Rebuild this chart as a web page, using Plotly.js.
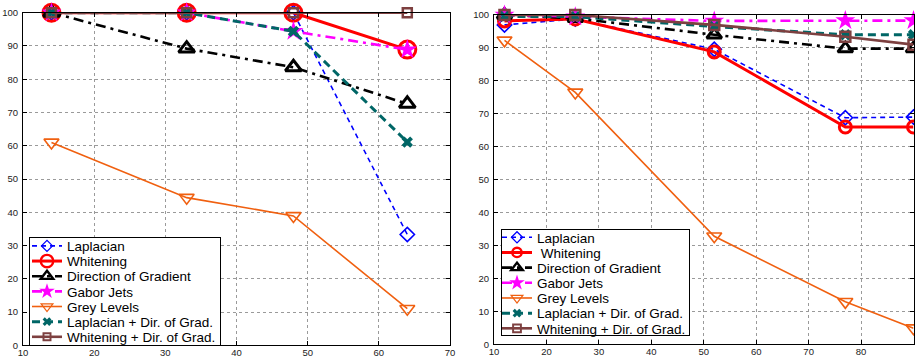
<!DOCTYPE html>
<html>
<head>
<meta charset="utf-8">
<script src="https://cdn.plot.ly/plotly-3.0.1.min.js"></script>
<style>html,body{margin:0;padding:0;background:#fff;}#chart{width:915px;height:358px;}</style>
</head>
<body>
<div id="chart"></div>
<script>
// ---- data ----
var seriesNames = ["Laplacian", "Whitening", "Direction of Gradient", "Gabor Jets", "Grey Levels", "Laplacian + Dir. of Grad.", "Whitening + Dir. of Grad."];
var seriesNamesRight = ["Laplacian", " Whitening", "Direction of Gradient", "Gabor Jets", "Grey Levels", "Laplacian + Dir. of Grad.", "Whitening + Dir. of Grad."];

var leftX = [14, 33, 48, 64];
var leftLaplacian   = [100, 100, 100, 33.3];
var leftWhitening   = [100, 100, 100, 88.9];
var leftDirGrad     = [100, 89.2, 83.6, 72.6];
var leftGabor       = [100, 100, 94.4, 88.9];
var leftGrey        = [61, 44.4, 38.9, 11];
var leftLapDir      = [100, 100, 94.4, 61.1];
var leftWhiteDir    = [100, 100, 100, 100];

var rightX = [12, 25.5, 52, 77, 90];
var rightLaplacian  = [97, 98.8, 89.6, 68.8, 69];
var rightWhitening  = [98.2, 98.8, 88.8, 66, 66];
var rightDirGrad    = [100, 99, 94, 89.8, 89.8];
var rightGabor      = [100, 99.5, 98.2, 98.3, 98.3];
var rightGrey       = [92.3, 76.5, 32.8, 12.9, 4.9];
var rightLapDir     = [99.6, 99.5, 96.5, 94, 94];
var rightWhiteDir   = [100, 100, 97, 93.4, 91];

var xTicksLeft = [10, 20, 30, 40, 50, 60, 70];
var xTicksRight = [10, 20, 30, 40, 50, 60, 70, 80, 90];
var yTicks = [0, 10, 20, 30, 40, 50, 60, 70, 80, 90, 100];

// ---- styles ----
var styles = [
  {color: "#0000ff", width: 1.6, dash: "5px,4px", symbol: "diamond-open", size: [11, 11], mlw: 1.6},
  {color: "#ff0000", width: 3, dash: "solid", symbol: "circle-open", size: [17, 12], mlw: 3},
  {color: "#000000", width: 2.6, dash: "10px,5px,3px,5px", symbol: "triangle-up-open", size: [14, 13], mlw: 3},
  {color: "#ff00ff", width: 2.6, dash: "10px,5px,3px,5px", symbol: "star", size: [15, 15], mlw: 0},
  {color: "#f06010", width: 1.6, dash: "solid", symbol: "triangle-down-open", size: [13, 13], mlw: 1.6},
  {color: "#006666", width: 3, dash: "8px,5px", symbol: "x", size: [10, 10], mlw: 0},
  {color: "#7d4040", width: 2.6, dash: "solid", symbol: "square-open", size: [9, 10], mlw: 2.5}
];

var leftData = [leftLaplacian, leftWhitening, leftDirGrad, leftGabor, leftGrey, leftLapDir, leftWhiteDir];
var rightData = [rightLaplacian, rightWhitening, rightDirGrad, rightGabor, rightGrey, rightLapDir, rightWhiteDir];

var traces = [];
leftData.forEach(function (ys, i) {
  var s = styles[i];
  traces.push({
    x: leftX, y: ys, xaxis: "x", yaxis: "y", type: "scatter", mode: "lines+markers",
    name: seriesNames[i], legend: "legend", cliponaxis: false,
    line: {color: s.color, width: s.width, dash: s.dash},
    marker: {symbol: s.symbol, size: s.size[0], color: s.color, line: {color: s.color, width: s.mlw}}
  });
});
rightData.forEach(function (ys, i) {
  var s = styles[i];
  traces.push({
    x: rightX, y: ys, xaxis: "x2", yaxis: "y2", type: "scatter", mode: "lines+markers",
    name: seriesNamesRight[i], legend: "legend2", cliponaxis: false,
    line: {color: s.color, width: s.width, dash: s.dash},
    marker: {symbol: s.symbol, size: s.size[1], color: s.color, line: {color: s.color, width: s.mlw}}
  });
});

var W = 915, H = 358;
function axisCommon(extra) {
  var a = {
    showline: true, mirror: "ticks", linecolor: "#000", linewidth: 1,
    ticks: "inside", ticklen: 4, tickcolor: "#000", tickwidth: 1,
    showgrid: true, gridcolor: "#9a9a9a", griddash: "dot", gridwidth: 1,
    zeroline: false, tickfont: {family: "Liberation Sans, Arial, sans-serif", size: 9.5, color: "#222"},
    fixedrange: true
  };
  for (var k in extra) a[k] = extra[k];
  return a;
}

var legendFont = {family: "Liberation Sans, Arial, sans-serif", size: 13.5, color: "#000"};

var layout = {
  width: W, height: H,
  margin: {l: 0, r: 0, t: 0, b: 0},
  paper_bgcolor: "#fff", plot_bgcolor: "#fff",
  showlegend: true,
  xaxis: axisCommon({domain: [23 / W, 450 / W], range: [10, 70], tickvals: xTicksLeft, anchor: "y", ticklabelstandoff: -2}),
  yaxis: axisCommon({domain: [(H - 345.3) / H, (H - 12.7) / H], range: [0, 100], tickvals: yTicks, anchor: "x", ticklabelstandoff: 2}),
  xaxis2: axisCommon({domain: [494 / W, 913.5 / W], range: [10, 90], tickvals: xTicksRight, anchor: "y2", ticklabelstandoff: -2}),
  yaxis2: axisCommon({domain: [(H - 344.3) / H, (H - 15) / H], range: [0, 100], tickvals: yTicks, anchor: "x2", ticklabelstandoff: 2}),
  legend: {
    x: 29 / W, y: (H - 345.5) / H, xanchor: "left", yanchor: "bottom",
    bgcolor: "#fff", bordercolor: "#000", borderwidth: 1, font: legendFont,
    itemwidth: 30, tracegroupgap: 0
  },
  legend2: {
    x: 501 / W, y: (H - 336) / H, xanchor: "left", yanchor: "bottom",
    bgcolor: "#fff", bordercolor: "#000", borderwidth: 1, font: legendFont,
    itemwidth: 30, tracegroupgap: 0
  }
};

// target legend boxes (px) to mimic the compact MATLAB legend spacing
var legendBoxes = {
  legend: {left: 29, bottom: 345.5, height: 109, width: 192, firstY: 9.4, step: 15.15, dx: -3},
  legend2: {left: 501, bottom: 336, height: 107.3, width: 189, firstY: 8.6, step: 15.17, dx: -5}
};

Plotly.newPlot("chart", traces, layout, {displayModeBar: false, staticPlot: true}).then(function (gd) {
  Object.keys(legendBoxes).forEach(function (cls) {
    var lg = gd.querySelector("g." + cls);
    var box = legendBoxes[cls];
    if (!lg) return;
    var items = lg.querySelectorAll("g.traces");
    items.forEach(function (it, i) {
      var t = it.getAttribute("transform") || "";
      var m = /translate\(\s*([-\d.e]+)[\s,]+([-\d.e]+)\s*\)/.exec(t);
      var x = m ? parseFloat(m[1]) : 0;
      it.setAttribute("transform", "translate(" + (x + box.dx) + "," + (box.firstY + i * box.step) + ")");
      it.querySelectorAll("path.scatterpts").forEach(function (p) {
        var pt = p.getAttribute("transform") || "";
        p.setAttribute("transform", pt + " scale(0.78)");
      });
    });
    var bg = lg.querySelector("rect.bg");
    if (bg) {
      bg.setAttribute("height", box.height - 1);
      bg.setAttribute("width", box.width - 1);
    }
    lg.setAttribute("transform", "translate(" + box.left + "," + (box.bottom - box.height) + ")");
  });
});
</script>
</body>
</html>
